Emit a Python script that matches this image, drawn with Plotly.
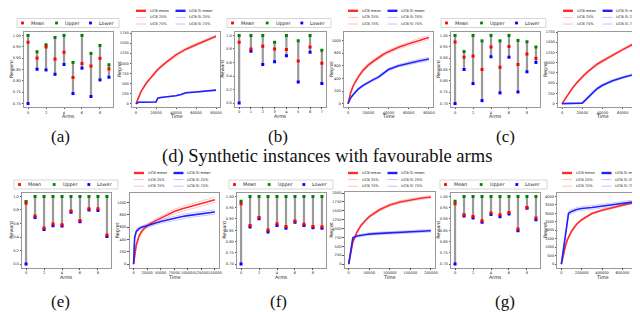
import plotly.graph_objects as go

W, H = 640, 312

def fx(x):
    return x / W

def fy(y):
    return 1 - y / H

# ------------------------------------------------------------------ data
# arms panels: (a) (b) (c) favourable ; (e) (f) (g) adversarial
mean_a = [0.970, 0.900, 0.949, 0.896, 0.926, 0.815, 0.876, 0.865, 0.899, 0.853]
upper_a = [1.000, 0.928, 0.959, 0.991, 1.000, 0.881, 1.000, 0.921, 0.956, 0.871]
lower_a = [0.700, 0.851, 0.848, 0.829, 0.872, 0.744, 0.856, 0.731, 0.804, 0.816]

mean_b = [0.90, 0.80, 0.84, 0.80, 0.79, 0.62, 0.83, 0.59]
upper_b = [1.00, 1.00, 1.00, 0.90, 1.00, 0.92, 1.00, 0.78]
lower_b = [0.00, 0.765, 0.57, 0.61, 0.70, 0.31, 0.75, 0.29]

mean_c = [0.971, 0.904, 0.909, 0.850, 0.949, 0.860, 0.951, 0.872, 0.918, 0.899]
upper_c = [1.000, 0.929, 1.000, 0.976, 1.000, 0.976, 1.000, 0.978, 0.972, 0.949]
lower_c = [0.700, 0.850, 0.788, 0.713, 0.906, 0.747, 0.904, 0.751, 0.840, 0.881]

mean_e = [0.897, 0.71, 0.532, 0.591, 0.581, 0.783, 0.645, 0.818, 0.818, 0.429]
upper_e = [0.926, 1.0, 1.0, 1.0, 1.0, 1.0, 1.0, 1.0, 1.0, 1.0]
lower_e = [0.0, 0.69, 0.512, 0.566, 0.562, 0.764, 0.626, 0.798, 0.793, 0.409]

mean_f = [0.967, 0.871, 0.907, 0.851, 0.879, 0.867, 0.891, 0.877, 0.867, 0.865]
upper_f = [0.978, 1.0, 1.0, 1.0, 1.0, 1.0, 1.0, 1.0, 1.0, 1.0]
lower_f = [0.700, 0.864, 0.901, 0.842, 0.871, 0.859, 0.885, 0.871, 0.861, 0.859]

mean_g = [0.967, 0.919, 0.911, 0.892, 0.926, 0.919, 0.929, 0.855, 0.951, 0.904]
upper_g = [0.979, 1.0, 1.0, 1.0, 1.0, 1.0, 1.0, 1.0, 1.0, 1.0]
lower_g = [0.700, 0.913, 0.904, 0.885, 0.920, 0.910, 0.922, 0.848, 0.947, 0.897]

# regret panels
T_a = [0, 2500, 5000, 10000, 15000, 20000, 21000, 22000, 25000, 30000, 40000, 45000, 48000, 50000, 60000, 70000, 80000]
ucb_a = [0, 170, 300, 500, 660, 800, 825, 850, 920, 1020, 1210, 1285, 1325, 1350, 1460, 1570, 1670]
ucb_a_lo = [0, 160, 285, 480, 640, 775, 800, 825, 895, 990, 1180, 1255, 1295, 1320, 1430, 1540, 1640]
ucb_a_hi = [0, 180, 315, 520, 680, 825, 850, 875, 945, 1050, 1240, 1315, 1355, 1380, 1490, 1600, 1700]
si_a = [0, 35, 37, 38, 40, 42, 100, 140, 155, 170, 195, 230, 265, 270, 290, 320, 335]
si_a_lo = [0, 30, 32, 33, 35, 37, 90, 130, 148, 163, 188, 220, 255, 262, 282, 312, 327]
si_a_hi = [0, 40, 42, 43, 45, 47, 110, 150, 162, 177, 202, 240, 275, 278, 298, 328, 343]

T_b = [0, 2500, 5000, 10000, 15000, 20000, 25000, 30000, 35000, 40000, 50000, 60000, 70000, 80000]
ucb_b = [0, 170, 280, 420, 530, 610, 670, 730, 780, 820, 890, 945, 1000, 1045]
ucb_b_lo = [0, 160, 265, 400, 505, 585, 645, 705, 755, 795, 865, 915, 970, 1015]
ucb_b_hi = [0, 180, 295, 440, 555, 635, 695, 755, 805, 845, 915, 975, 1030, 1075]
si_b = [0, 90, 140, 230, 290, 340, 380, 420, 480, 540, 600, 640, 675, 705]
si_b_lo = [0, 80, 128, 215, 275, 325, 362, 400, 460, 520, 580, 618, 650, 680]
si_b_hi = [0, 100, 152, 245, 305, 355, 398, 440, 500, 560, 620, 662, 700, 730]

T_c = [0, 5000, 10000, 15000, 20000, 22000, 25000, 30000, 35000, 40000, 50000, 60000, 70000, 80000]
ucb_c = [0, 200, 370, 520, 660, 705, 770, 880, 970, 1040, 1190, 1320, 1450, 1590]
ucb_c_lo = [0, 190, 355, 500, 635, 680, 745, 850, 940, 1010, 1160, 1290, 1420, 1560]
ucb_c_hi = [0, 210, 385, 540, 685, 730, 795, 910, 1000, 1070, 1220, 1350, 1480, 1620]
si_c = [0, 5, 8, 10, 12, 60, 130, 270, 370, 450, 560, 640, 710, 770]
si_c_lo = [0, 3, 5, 7, 9, 40, 100, 240, 345, 425, 535, 615, 685, 745]
si_c_hi = [0, 7, 11, 13, 15, 80, 160, 300, 395, 475, 585, 665, 735, 795]

T_e = [0, 2000, 5000, 10000, 15000, 20000, 30000, 40000, 50000, 60000, 75000, 90000, 100000, 125000, 150000]
ucb_e = [0, 170, 310, 450, 530, 580, 650, 700, 745, 785, 850, 895, 920, 980, 1043]
ucb_e_lo = [0, 160, 295, 430, 505, 555, 620, 670, 712, 750, 812, 855, 880, 938, 1000]
ucb_e_hi = [0, 180, 325, 470, 555, 605, 680, 730, 778, 820, 888, 935, 960, 1022, 1086]
si_e = [0, 430, 530, 575, 595, 610, 640, 665, 690, 710, 745, 770, 785, 815, 843]
si_e_lo = [0, 410, 510, 552, 570, 585, 612, 636, 660, 680, 712, 736, 750, 780, 808]
si_e_hi = [0, 450, 550, 598, 620, 635, 668, 694, 720, 740, 778, 804, 820, 850, 878]

T_f = [0, 5000, 10000, 20000, 30000, 40000, 50000, 75000, 100000, 125000, 150000, 175000, 200000]
ucb_f = [0, 350, 620, 900, 1090, 1220, 1335, 1530, 1665, 1750, 1810, 1855, 1890]
ucb_f_lo = [0, 335, 595, 870, 1055, 1185, 1300, 1495, 1630, 1715, 1775, 1820, 1855]
ucb_f_hi = [0, 365, 645, 930, 1125, 1255, 1370, 1565, 1700, 1785, 1845, 1890, 1925]
si_f = [0, 420, 740, 790, 810, 830, 845, 865, 883, 895, 905, 920, 940]
si_f_lo = [0, 400, 710, 760, 780, 800, 812, 832, 850, 862, 872, 887, 905]
si_f_hi = [0, 440, 770, 820, 840, 860, 878, 898, 916, 928, 938, 953, 975]

T_g = [0, 20000, 40000, 60000, 70000, 80000, 100000, 150000, 200000, 300000, 400000, 500000, 600000, 700000, 800000]
ucb_g = [0, 600, 1080, 1450, 1600, 1720, 1940, 2350, 2620, 2980, 3180, 3320, 3460, 3620, 3800]
ucb_g_lo = [0, 570, 1040, 1400, 1550, 1670, 1890, 2300, 2570, 2930, 3130, 3270, 3410, 3570, 3750]
ucb_g_hi = [0, 630, 1120, 1500, 1650, 1770, 1990, 2400, 2670, 3030, 3230, 3370, 3510, 3670, 3850]
si_g = [0, 900, 1800, 2700, 2980, 3030, 3110, 3220, 3280, 3340, 3420, 3490, 3550, 3660, 3800]
si_g_lo = [0, 850, 1720, 2600, 2870, 2920, 3000, 3110, 3170, 3230, 3310, 3380, 3440, 3550, 3700]
si_g_hi = [0, 950, 1880, 2800, 3090, 3140, 3220, 3330, 3390, 3450, 3530, 3600, 3660, 3770, 3900]

captions_top = ["(a)", "(b)", "(c)"]
captions_bot = ["(e)", "(f)", "(g)"]
title_top = "(d) Synthetic instances with favourable arms"
title_bot = "(h) Synthetic instances with adversarial arms"

# ------------------------------------------------------------------ figure
fig = go.Figure()
layout = dict(
    width=W, height=H, autosize=False,
    margin=dict(l=0, r=0, t=0, b=0),
    paper_bgcolor="white", plot_bgcolor="white",
    showlegend=False,
)
shapes = []
annotations = []

TICKFONT = dict(family="DejaVu Sans", size=3.6, color="#222")
LABFONT = dict(family="DejaVu Sans", size=4.8, color="#222")
LEGFONT = dict(family="DejaVu Sans", size=4.8, color="#222")
RLEGFONT = dict(family="DejaVu Sans", size=3.6, color="#222")
SPINE = "#999999"

ax_counter = [0]


def new_axes(x0, x1, y0, y1, xr, yr, xtickvals, xticktext, ytickvals, yticktext, xlabel, ylabel):
    ax_counter[0] += 1
    i = ax_counter[0]
    xn = "xaxis" if i == 1 else f"xaxis{i}"
    yn = "yaxis" if i == 1 else f"yaxis{i}"
    xref = "x" if i == 1 else f"x{i}"
    yref = "y" if i == 1 else f"y{i}"
    common = dict(showgrid=False, zeroline=False, showline=True, linecolor=SPINE, linewidth=0.8,
                  mirror=True, ticks="outside", ticklen=1.5, tickwidth=0.6, tickcolor="#555",
                  tickfont=TICKFONT, fixedrange=True, tickangle=0, automargin=False)
    layout[xn] = dict(domain=[fx(x0), fx(x1)], range=xr, anchor=yref,
                      tickvals=xtickvals, ticktext=xticktext, **common)
    layout[yn] = dict(domain=[fy(y1), fy(y0)], range=yr, anchor=xref,
                      tickvals=ytickvals, ticktext=yticktext, **common)
    annotations.append(dict(text=xlabel, x=fx((x0 + x1) / 2), y=fy(y1 + 9.5), xref="paper", yref="paper",
                            showarrow=False, font=LABFONT, xanchor="center", yanchor="middle"))
    annotations.append(dict(text=ylabel, x=fx(max(x0 - 12.5, 3.5)), y=fy((y0 + y1) / 2), xref="paper",
                            yref="paper", showarrow=False, font=LABFONT, textangle=-90,
                            xanchor="center", yanchor="middle"))
    return xref, yref


def arms_panel(geom, mean, upper, lower, xticks, yticks, yfmt, yr):
    x0, x1, y0, y1 = geom
    n = len(mean)
    arms = list(range(n))
    xr = [-(n - 1) * 0.05, (n - 1) + (n - 1) * 0.05]
    xref, yref = new_axes(x0, x1, y0, y1, xr, yr, xticks, [str(v) for v in xticks],
                          yticks, [yfmt.format(v) for v in yticks], "Arms", "Reward")
    xs, ys = [], []
    for a in arms:
        xs += [a, a, None]
        ys += [lower[a], upper[a], None]
    fig.add_trace(go.Scatter(x=xs, y=ys, mode="lines", line=dict(color="#9a9a9a", width=2.2),
                             xaxis=xref, yaxis=yref, hoverinfo="skip"))
    for vals, col in ((upper, "#008000"), (lower, "#0000ff"), (mean, "#ff0000")):
        fig.add_trace(go.Scatter(x=arms, y=vals, mode="markers",
                                 marker=dict(color=col, size=3.0, symbol="square", line=dict(width=0)),
                                 xaxis=xref, yaxis=yref))


def regret_panel(geom, T, ucb, ucb_lo, ucb_hi, si, si_lo, si_hi, xr, yr, xticks, yticks):
    x0, x1, y0, y1 = geom
    xref, yref = new_axes(x0, x1, y0, y1, xr, yr, xticks, [str(v) for v in xticks],
                          yticks, [str(v) for v in yticks], "Time", "Regret")
    for vals, col, wd in ((ucb_lo, "#ffb0b0", 0.7), (ucb_hi, "#ffb0b0", 0.7),
                          (si_lo, "#b0b0ff", 0.7), (si_hi, "#b0b0ff", 0.7),
                          (ucb, "#ff2a2a", 1.6), (si, "#2020ff", 1.6)):
        fig.add_trace(go.Scatter(x=T, y=vals, mode="lines", line=dict(color=col, width=wd),
                                 xaxis=xref, yaxis=yref, hoverinfo="skip"))


def arms_legend(bx0, bx1, by0, by1):
    shapes.append(dict(type="rect", xref="paper", yref="paper", x0=fx(bx0), x1=fx(bx1),
                       y0=fy(by1), y1=fy(by0), line=dict(color="#cccccc", width=0.8)))
    cy = (by0 + by1) / 2
    step = (bx1 - bx0) / 3
    for k, (lab, col) in enumerate((("Mean", "#ff0000"), ("Upper", "#008000"), ("Lower", "#0000ff"))):
        mx = bx0 + 5.5 + k * step
        shapes.append(dict(type="rect", xref="paper", yref="paper", x0=fx(mx - 1.4), x1=fx(mx + 1.4),
                           y0=fy(cy + 1.4), y1=fy(cy - 1.4), fillcolor=col, line=dict(width=0)))
        annotations.append(dict(text=lab, x=fx(mx + 6.5), y=fy(cy), xref="paper", yref="paper",
                                showarrow=False, font=LEGFONT, xanchor="left", yanchor="middle"))


def regret_legend(lx, ly):
    rows = [("UCB mean", "UCB-SI mean", 2.4), ("UCB 25%", "UCB-SI 25%", 0.8), ("UCB 75%", "UCB-SI 75%", 0.8)]
    for r, (l1, l2, wd) in enumerate(rows):
        yy = ly + r * 6.6
        for c, (lab, col) in enumerate(((l1, "#ff2a2a" if wd > 1 else "#ffb0b0"),
                                        (l2, "#2020ff" if wd > 1 else "#b0b0ff"))):
            sx = lx + c * 39.5
            shapes.append(dict(type="line", xref="paper", yref="paper", x0=fx(sx), x1=fx(sx + 10),
                               y0=fy(yy), y1=fy(yy), line=dict(color=col, width=wd)))
            annotations.append(dict(text=lab, x=fx(sx + 11.5), y=fy(yy), xref="paper", yref="paper",
                                    showarrow=False, font=RLEGFONT, xanchor="left", yanchor="middle"))


ARM_Y1 = [0.70, 0.75, 0.80, 0.85, 0.90, 0.95, 1.00]
ARM_Y2 = [0.0, 0.2, 0.4, 0.6, 0.8, 1.0]
EVEN = [0, 2, 4, 6, 8]

# ---- row 1
arms_panel((16, 105, 24, 99), mean_a, upper_a, lower_a, EVEN, ARM_Y1, "{:.2f}", [0.685, 1.015])
regret_panel((124, 212, 24, 99), T_a, ucb_a, ucb_a_lo, ucb_a_hi, si_a, si_a_lo, si_a_hi,
             [-4000, 84000], [-82, 1775], [0, 20000, 40000, 60000, 80000],
             [0, 250, 500, 750, 1000, 1250, 1500, 1750])
arms_panel((227, 318, 24, 98.5), mean_b, upper_b, lower_b, list(range(8)), ARM_Y2, "{:.1f}", [-0.05, 1.05])
regret_panel((336, 425, 24, 99), T_b, ucb_b, ucb_b_lo, ucb_b_hi, si_b, si_b_lo, si_b_hi,
             [-4000, 84000], [-52, 1132], [0, 20000, 40000, 60000, 80000],
             [0, 200, 400, 600, 800, 1000])
arms_panel((443, 532, 24, 99), mean_c, upper_c, lower_c, EVEN, ARM_Y1, "{:.2f}", [0.685, 1.015])
regret_panel((550, 639, 24, 99), T_c, ucb_c, ucb_c_lo, ucb_c_hi, si_c, si_c_lo, si_c_hi,
             [-4000, 84000], [-82, 1750], [0, 20000, 40000, 60000, 80000],
             [0, 250, 500, 750, 1000, 1250, 1500, 1750])

# ---- row 2
arms_panel((14, 103, 185, 259.5), mean_e, upper_e, lower_e, EVEN, ARM_Y2, "{:.1f}", [-0.05, 1.05])
regret_panel((121.5, 211, 185, 259.5), T_e, ucb_e, ucb_e_lo, ucb_e_hi, si_e, si_e_lo, si_e_hi,
             [-7500, 157500], [-55, 1151], [0, 25000, 50000, 75000, 100000, 125000, 150000],
             [0, 200, 400, 600, 800, 1000])
arms_panel((229, 318, 185, 259.5), mean_f, upper_f, lower_f, EVEN, ARM_Y1, "{:.2f}", [0.685, 1.015])
regret_panel((336.6, 427, 184, 259.5), T_f, ucb_f, ucb_f_lo, ucb_f_hi, si_f, si_f_lo, si_f_hi,
             [-10000, 210000], [-96, 2030], [0, 50000, 100000, 150000, 200000],
             [0, 250, 500, 750, 1000, 1250, 1500, 1750, 2000])
arms_panel((443, 532, 185, 259.5), mean_g, upper_g, lower_g, EVEN, ARM_Y1, "{:.2f}", [0.685, 1.015])
regret_panel((549.3, 638.8, 185, 259.5), T_g, ucb_g, ucb_g_lo, ucb_g_hi, si_g, si_g_lo, si_g_hi,
             [-40000, 840000], [-200, 4195], [0, 200000, 400000, 600000, 800000],
             [0, 500, 1000, 1500, 2000, 2500, 3000, 3500, 4000])

# ---- legends
arms_legend(9, 111, 10.5, 19.5)
arms_legend(219, 323, 10.5, 19.5)
arms_legend(433, 538, 10.5, 19.5)
arms_legend(6, 110, 172, 181)
arms_legend(221, 325, 172, 181)
arms_legend(432, 539, 172, 181)
regret_legend(128, 2.8)
regret_legend(340, 2.8)
regret_legend(555, 2.8)
regret_legend(126, 165)
regret_legend(340, 165)
regret_legend(554, 165)

# ---- captions
CAPFONT = dict(family="Liberation Serif", size=17, color="#111")
for txt, cx in zip(captions_top, (52, 270, 497)):
    annotations.append(dict(text=txt, x=fx(cx), y=fy(128), xref="paper", yref="paper", showarrow=False,
                            font=CAPFONT, xanchor="center", yanchor="middle"))
for txt, cx in zip(captions_bot, (52, 270, 497)):
    annotations.append(dict(text=txt, x=fx(cx), y=fy(293), xref="paper", yref="paper", showarrow=False,
                            font=CAPFONT, xanchor="center", yanchor="middle"))
annotations.append(dict(text=title_top, x=fx(319), y=fy(148), xref="paper", yref="paper", showarrow=False,
                        font=dict(family="Liberation Serif", size=18.5, color="#111"), xanchor="center",
                        yanchor="middle"))
annotations.append(dict(text=title_bot, x=fx(318), y=fy(302), xref="paper", yref="paper", showarrow=False,
                        font=dict(family="Liberation Serif", size=18.5, color="#111"), xanchor="center",
                        yanchor="top"))

layout["shapes"] = shapes
layout["annotations"] = annotations
fig.update_layout(**layout)
fig.write_html("out.html")
